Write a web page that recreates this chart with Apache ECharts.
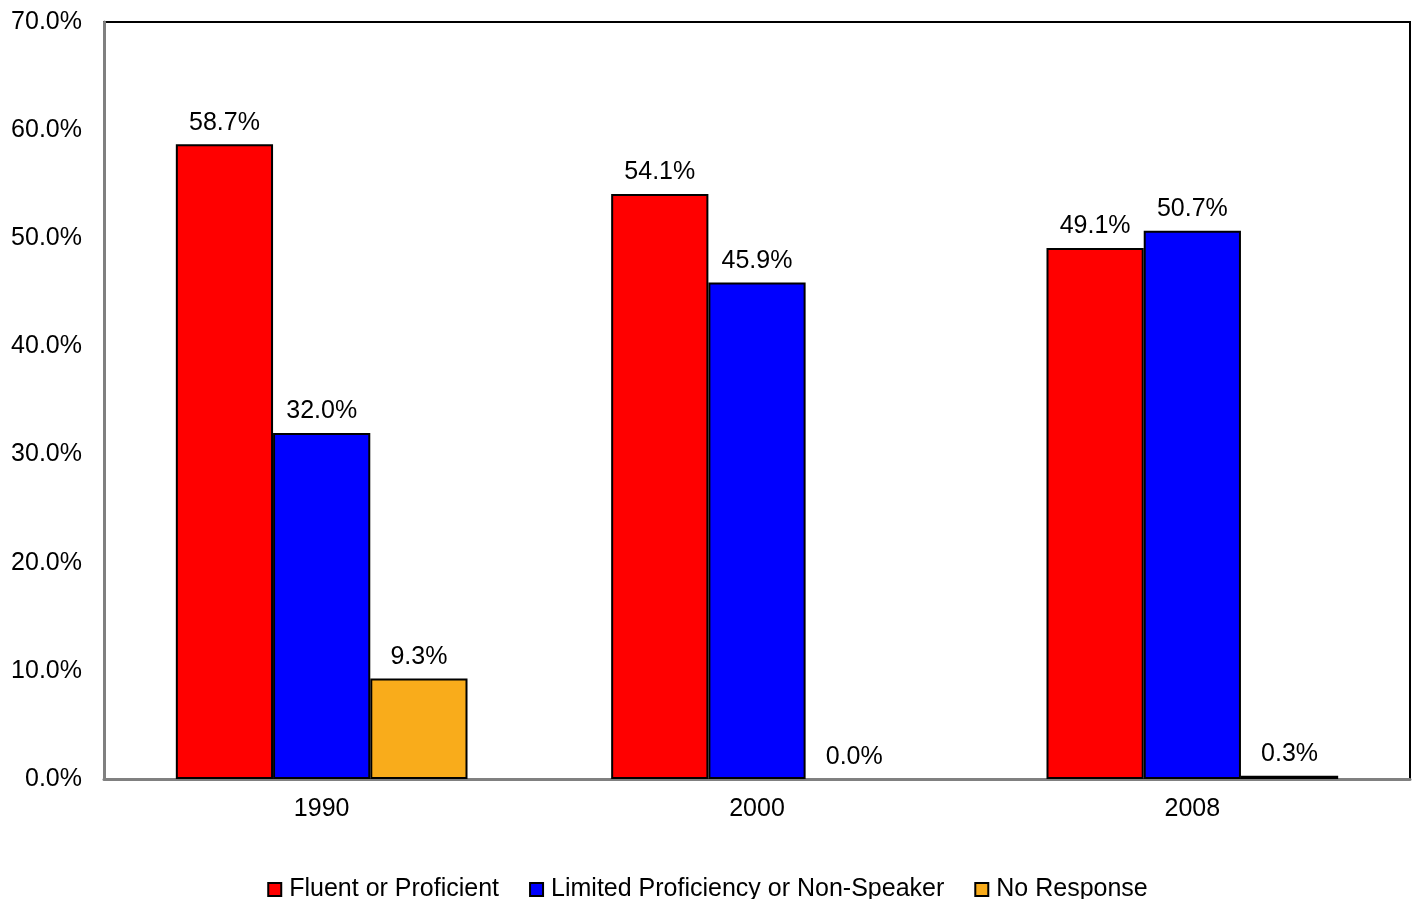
<!DOCTYPE html>
<html>
<head>
<meta charset="utf-8">
<script src="https://cdn.jsdelivr.net/npm/echarts@6/dist/echarts.min.js"></script>
<style>
  html, body { margin: 0; padding: 0; background: #fff; }
  #chart { width: 1415px; height: 899px; }
</style>
</head>
<body>
<div id="chart"></div>
<script>
  // data
  const years = ['1990', '2000', '2008'];
  const fluent = [58.7, 54.1, 49.1];
  const limited = [32.0, 45.9, 50.7];
  const noResponse = [9.3, 0.0, 0.3];
  const seriesNames = ['Fluent or Proficient', 'Limited Proficiency or Non-Speaker', 'No Response'];
  const colors = ['#FF0000', '#0000FF', '#F9AC1B'];

  const font = 'Liberation Sans, Arial, sans-serif';
  const fs = 25;

  const makeSeries = (name, data, color) => ({
    name: name,
    type: 'bar',
    // zero-height bars get no outline
    data: data.map((v) => (v === 0 ? { value: v, itemStyle: { borderWidth: 0 } } : v)),
    barGap: '0%',
    barCategoryGap: '33%',
    itemStyle: { color: color, borderColor: '#000', borderWidth: 2 },
    label: {
      show: true,
      position: 'top',
      distance: 9,
      color: '#000',
      fontFamily: font,
      fontSize: fs,
      formatter: (p) => p.value.toFixed(1) + '%',
    },
  });

  const chart = echarts.init(document.getElementById('chart'));
  const option = {
    animation: false,
    backgroundColor: '#fff',
    grid: {
      left: 104, right: 5, top: 22, bottom: 120,
      show: true, borderColor: '#000', borderWidth: 2,
    },
    legend: {
      top: 872,
      left: 'center',
      itemWidth: 13,
      itemHeight: 13,
      itemGap: 30,
      icon: 'rect',
      itemStyle: { borderColor: '#000', borderWidth: 2 },
      textStyle: { color: '#000', fontFamily: font, fontSize: fs, padding: [0, 0, 0, 3] },
      data: seriesNames,
    },
    xAxis: {
      type: 'category',
      data: years,
      axisLine: { lineStyle: { color: '#808080', width: 3 } },
      axisTick: { show: false },
      axisLabel: { color: '#000', fontFamily: font, fontSize: fs, margin: 18 },
    },
    yAxis: {
      type: 'value',
      min: 0,
      max: 70,
      interval: 10,
      axisLine: { show: true, lineStyle: { color: '#808080', width: 3 } },
      axisTick: { show: false },
      splitLine: { show: false },
      axisLabel: {
        color: '#000', fontFamily: font, fontSize: fs, margin: 22,
        formatter: (v) => v.toFixed(1) + '%',
      },
    },
    series: [
      makeSeries(seriesNames[0], fluent, colors[0]),
      makeSeries(seriesNames[1], limited, colors[1]),
      makeSeries(seriesNames[2], noResponse, colors[2]),
    ],
  };
  chart.setOption(option);
</script>
</body>
</html>
